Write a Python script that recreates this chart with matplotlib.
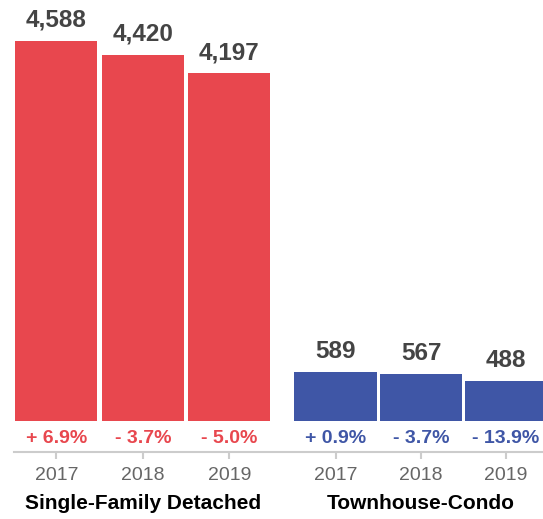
import matplotlib.pyplot as plt

plt.rcParams['font.family'] = ['Liberation Sans', 'DejaVu Sans']

# Chart data
years = ['2017', '2018', '2019']
single_family = [4588, 4420, 4197]
townhouse = [589, 567, 488]
sf_change = ['+ 6.9%', '- 3.7%', '- 5.0%']
th_change = ['+ 0.9%', '- 3.7%', '- 13.9%']
groups = ['Single-Family Detached', 'Townhouse-Condo']

red = '#E8474E'
blue = '#3F56A6'

sf_pos = [0, 1, 2]
th_pos = [3.23, 4.22, 5.2]

fig = plt.figure(figsize=(5.43, 5.19), dpi=100)
ax = fig.add_axes([14 / 543, 67 / 519, 529 / 543, 452 / 519])

ax.bar(sf_pos, single_family, width=0.95, color=red)
ax.bar(th_pos, townhouse, width=0.95, color=blue)

for x, v, c in zip(sf_pos, single_family, sf_change):
    ax.text(x, v + 110, f'{v:,}', ha='center', va='bottom', fontsize=17.5,
            fontweight='bold', color='#444444')
    ax.text(x, -205, c, ha='center', va='center', fontsize=14,
            fontweight='bold', color=red)
for x, v, c in zip(th_pos, townhouse, th_change):
    ax.text(x, v + 110, f'{v:,}', ha='center', va='bottom', fontsize=17.5,
            fontweight='bold', color='#444444')
    ax.text(x, -205, c, ha='center', va='center', fontsize=14,
            fontweight='bold', color=blue)

ax.set_xlim(-0.49, 5.63)
ax.set_ylim(-374, 5084)
ax.set_xticks(sf_pos + th_pos)
ax.set_xticklabels(years + years, fontsize=14, color='#666666')
ax.tick_params(axis='x', length=5, width=1.5, color='#cccccc', pad=6)
ax.set_yticks([])
for s in ['top', 'right', 'left']:
    ax.spines[s].set_visible(False)
ax.spines['bottom'].set_color('#cccccc')
ax.spines['bottom'].set_linewidth(1.5)

# group labels below the years
for pos, name in zip([sf_pos, th_pos], groups):
    ax.text(sum(pos) / 3, -0.115, name, transform=ax.get_xaxis_transform(),
            ha='center', va='center', fontsize=15, fontweight='bold',
            color='black')

fig.savefig('out.png', dpi=100)
